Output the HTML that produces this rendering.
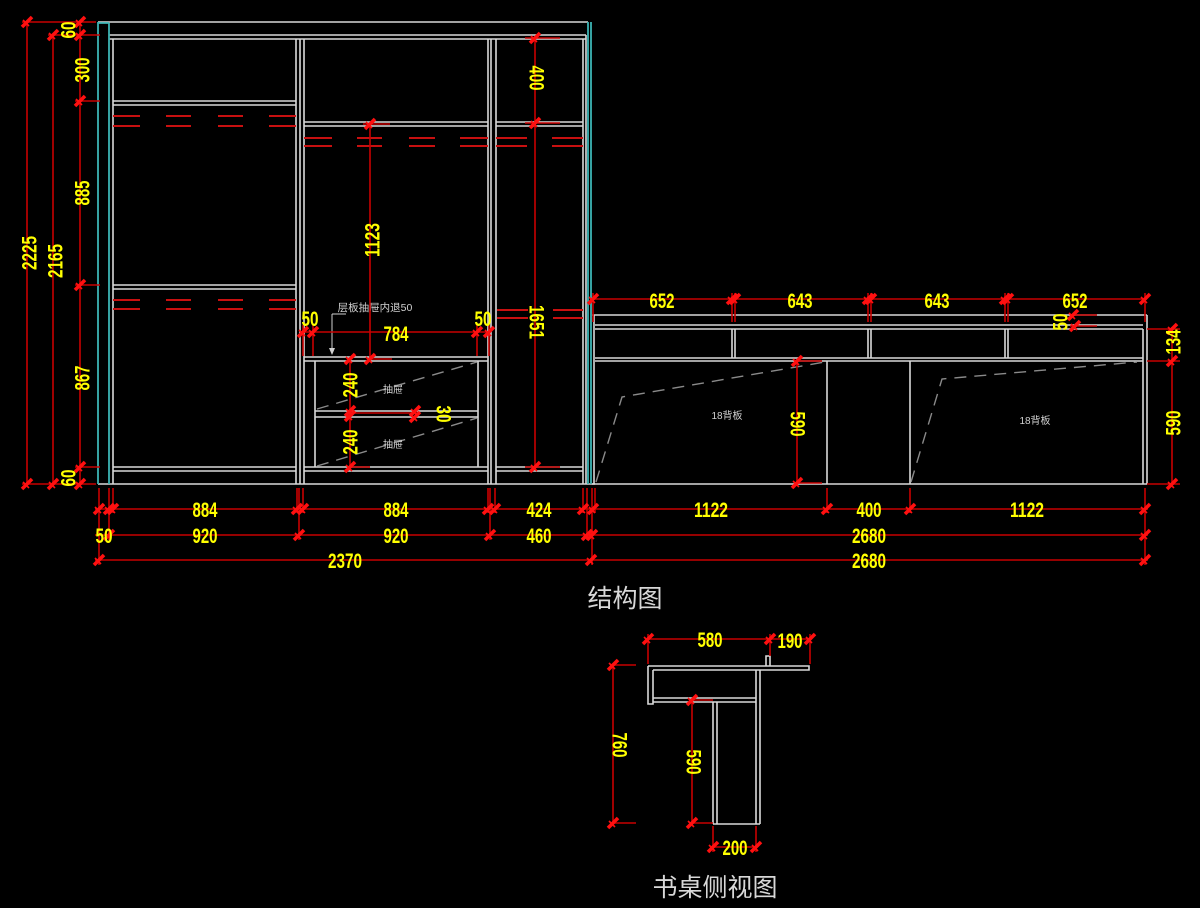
<!DOCTYPE html>
<html><head><meta charset="utf-8">
<style>
html,body{margin:0;padding:0;background:#000;}
svg{display:block;}
.w{stroke:#d9d9d9;stroke-width:1.6;fill:none;}
.c{stroke:#3cb4b4;stroke-width:1.8;fill:none;}
.r{stroke:#c80000;stroke-width:1.6;fill:none;}
.rd{stroke:#c81010;stroke-width:2;fill:none;}
.g{stroke:#8a8a8a;stroke-width:1.4;fill:none;stroke-dasharray:12 8;}
.y{font-family:"Liberation Sans",sans-serif;font-weight:bold;font-size:21px;fill:#ffff00;text-anchor:middle;}
.s{font-family:"Liberation Sans","Noto Sans CJK SC",sans-serif;font-size:10px;fill:#d0d0d0;text-anchor:middle;}
.t{font-family:"Liberation Sans","Noto Sans CJK SC",sans-serif;font-size:25px;fill:#d8d8d8;text-anchor:middle;}
</style></head>
<body>
<svg width="1200" height="908" viewBox="0 0 1200 908" xmlns="http://www.w3.org/2000/svg">
<defs>
<g id="k"><path d="M-5 5 L5 -5" stroke="#ff1010" stroke-width="3.6"/><path d="M-4 -2 L2 4" stroke="#ff1010" stroke-width="1.6"/></g>
</defs>
<rect width="1200" height="908" fill="#000"/>

<!-- ================= WARDROBE ================= -->
<g class="w">
<path d="M98 22 H588"/>
<path d="M109 35 H586 M109 39 H586"/>
<path d="M113 39 V484"/>
<path d="M98 484 H595"/>
<path d="M296 39 V484 M300 39 V484 M304 39 V484"/>
<path d="M488 39 V484 M491 39 V484 M496 39 V484"/>
<path d="M583 39 V484 M586 35 V484"/>
<path d="M113 101 H296 M113 105 H296"/>
<path d="M113 285 H296 M113 289 H296"/>
<path d="M113 467 H296 M113 471 H296"/>
<path d="M304 122 H488 M304 126 H488"/>
<path d="M304 357 H488 M304 361 H488"/>
<path d="M315 361 V467 M478 361 V467"/>
<path d="M315 411 H478 M315 417 H478"/>
<path d="M304 467 H488 M304 471 H488"/>
<path d="M496 122 H583 M496 126 H583"/>
<path d="M496 467 H583 M496 471 H583"/>
</g>
<g class="c">
<path d="M98 22 V484 M109 23 V484 M98 23 H109"/>
<path d="M588 22 V484 M591 22 V484"/>
</g>
<g class="rd">
<path d="M113 116 H140 M166 116 H191 M218 116 H243 M269 116 H296"/>
<path d="M113 126 H140 M166 126 H191 M218 126 H243 M269 126 H296"/>
<path d="M113 300 H140 M166 300 H191 M218 300 H243 M269 300 H296"/>
<path d="M113 309 H140 M166 309 H191 M218 309 H243 M269 309 H296"/>
<path d="M304 138 H332 M357 138 H382 M409 138 H435 M460 138 H488"/>
<path d="M304 146 H332 M357 146 H382 M409 146 H435 M460 146 H488"/>
<path d="M496 138 H527 M552 138 H583 M496 146 H527 M552 146 H583"/>
<path d="M497 310 H528 M553 310 H583 M497 318 H528 M553 318 H583"/>
</g>
<path class="g" d="M317 409 L477 362"/>
<path class="g" d="M317 466 L477 418"/>
<text class="s" x="393" y="393">抽屉</text>
<text class="s" x="393" y="448">抽屉</text>
<text class="s" x="375" y="311" style="font-size:10.5px">层板抽屉内退50</text>
<path d="M332 314 H346 M332 314 V350" style="stroke:#d0d0d0;stroke-width:1;fill:none"/>
<path d="M329 348 L332 355 L335 348 Z" fill="#d0d0d0"/>

<!-- ================= DESK ================= -->
<g class="w">
<path d="M592 315 H1147"/>
<path d="M595 325 H1143 M595 329 H1143"/>
<path d="M594 315 V484"/>
<path d="M1143 329 V484 M1147 315 V484"/>
<path d="M732 329 V358 M735 329 V358 M868 329 V358 M871 329 V358 M1005 329 V358 M1008 329 V358"/>
<path d="M595 358 H1143 M595 361 H1143"/>
<path d="M827 361 V484 M910 361 V484"/>
<path d="M592 484 H1147"/>
</g>
<path class="g" d="M596 482 L622 397 L825 362"/>
<path class="g" d="M911 482 L942 379 L1137 362"/>
<text class="s" x="727" y="419">18背板</text>
<text class="s" x="1035" y="424">18背板</text>

<!-- ================= DIMENSIONS (wardrobe left) ================= -->
<g class="r">
<path d="M27 22 V484 M53 35 V484 M80 22 V484"/>
<path d="M22 22 H96 M48 35 H100 M75 101 H100 M75 285 H100 M75 467 H100 M22 484 H96"/>
</g>
<use href="#k" x="27" y="22"/><use href="#k" x="27" y="484"/>
<use href="#k" x="53" y="35"/><use href="#k" x="53" y="484"/>
<use href="#k" x="80" y="22"/><use href="#k" x="80" y="35"/><use href="#k" x="80" y="101"/>
<use href="#k" x="80" y="285"/><use href="#k" x="80" y="467"/><use href="#k" x="80" y="484"/>
<text class="y" transform="translate(29 253) rotate(-90)" y="7.5" textLength="34" lengthAdjust="spacingAndGlyphs">2225</text>
<text class="y" transform="translate(55 261) rotate(-90)" y="7.5" textLength="34" lengthAdjust="spacingAndGlyphs">2165</text>
<text class="y" transform="translate(68 30) rotate(-90)" y="7.5" textLength="17" lengthAdjust="spacingAndGlyphs">60</text>
<text class="y" transform="translate(82 70) rotate(-90)" y="7.5" textLength="25" lengthAdjust="spacingAndGlyphs">300</text>
<text class="y" transform="translate(82 193) rotate(-90)" y="7.5" textLength="25" lengthAdjust="spacingAndGlyphs">885</text>
<text class="y" transform="translate(82 378) rotate(-90)" y="7.5" textLength="25" lengthAdjust="spacingAndGlyphs">867</text>
<text class="y" transform="translate(68 478) rotate(-90)" y="7.5" textLength="17" lengthAdjust="spacingAndGlyphs">60</text>

<!-- middle dims -->
<g class="r">
<path d="M370 124 V359 M363 124 H390 M370 359 H392"/>
<path d="M535 38 V467 M525 38 H560 M525 123 H560 M525 467 H560"/>
<path d="M303 332 H489 M303 325 V356 M313 325 V356 M477 325 V356 M489 325 V356"/>
<path d="M350 359 V467 M350 413 H420 M350 467 H370"/>
</g>
<use href="#k" x="370" y="124"/><use href="#k" x="370" y="359"/>
<use href="#k" x="535" y="38"/><use href="#k" x="535" y="123"/><use href="#k" x="535" y="467"/>
<use href="#k" x="303" y="332"/><use href="#k" x="313" y="332"/><use href="#k" x="477" y="332"/><use href="#k" x="489" y="332"/>
<use href="#k" x="350" y="359"/><use href="#k" x="350" y="411"/><use href="#k" x="350" y="416"/><use href="#k" x="350" y="467"/>
<use href="#k" x="415" y="411"/><use href="#k" x="415" y="417"/>
<text class="y" transform="translate(372 240) rotate(-90)" y="7.5" textLength="34" lengthAdjust="spacingAndGlyphs">1123</text>
<text class="y" transform="translate(537 78) rotate(90)" y="7.5" textLength="25" lengthAdjust="spacingAndGlyphs">400</text>
<text class="y" transform="translate(537 322) rotate(90)" y="7.5" textLength="34" lengthAdjust="spacingAndGlyphs">1651</text>
<text class="y" transform="translate(350 385) rotate(-90)" y="7.5" textLength="25" lengthAdjust="spacingAndGlyphs">240</text>
<text class="y" transform="translate(350 442) rotate(-90)" y="7.5" textLength="25" lengthAdjust="spacingAndGlyphs">240</text>
<text class="y" transform="translate(444 414) rotate(90)" y="7.5" textLength="17" lengthAdjust="spacingAndGlyphs">30</text>
<text class="y" x="310" y="326" textLength="17" lengthAdjust="spacingAndGlyphs">50</text>
<text class="y" x="396" y="341" textLength="25" lengthAdjust="spacingAndGlyphs">784</text>
<text class="y" x="483" y="326" textLength="17" lengthAdjust="spacingAndGlyphs">50</text>

<!-- desk dims -->
<g class="r">
<path d="M590 299 H1147"/>
<path d="M593 293 V322 M732 293 V322 M735 293 V322 M868 293 V322 M871 293 V322 M1005 293 V322 M1008 293 V322 M1145 293 V322"/>
<path d="M1070 315 H1097 M1070 326 H1097"/>
<path d="M1172 327 V484 M1147 329 H1180 M1147 361 H1180 M1147 484 H1180"/>
<path d="M797 361 V483 M797 361 H822 M797 483 H822"/>
</g>
<use href="#k" x="593" y="299"/><use href="#k" x="732" y="299"/><use href="#k" x="735" y="299"/>
<use href="#k" x="868" y="299"/><use href="#k" x="871" y="299"/><use href="#k" x="1005" y="299"/>
<use href="#k" x="1008" y="299"/><use href="#k" x="1145" y="299"/>
<use href="#k" x="1073" y="315"/><use href="#k" x="1075" y="326"/>
<use href="#k" x="1172" y="329"/><use href="#k" x="1172" y="361"/><use href="#k" x="1172" y="484"/>
<use href="#k" x="797" y="361"/><use href="#k" x="797" y="483"/>
<text class="y" x="662" y="308" textLength="25" lengthAdjust="spacingAndGlyphs">652</text>
<text class="y" x="800" y="308" textLength="25" lengthAdjust="spacingAndGlyphs">643</text>
<text class="y" x="937" y="308" textLength="25" lengthAdjust="spacingAndGlyphs">643</text>
<text class="y" x="1075" y="308" textLength="25" lengthAdjust="spacingAndGlyphs">652</text>
<text class="y" transform="translate(1060 322) rotate(-90)" y="7.5" textLength="17" lengthAdjust="spacingAndGlyphs">50</text>
<text class="y" transform="translate(1173 342) rotate(-90)" y="7.5" textLength="25" lengthAdjust="spacingAndGlyphs">134</text>
<text class="y" transform="translate(1173 423) rotate(-90)" y="7.5" textLength="25" lengthAdjust="spacingAndGlyphs">590</text>
<text class="y" transform="translate(798 424) rotate(90)" y="7.5" textLength="25" lengthAdjust="spacingAndGlyphs">590</text>

<!-- bottom dims -->
<g class="r">
<path d="M95 509 H1148 M95 535 H1148 M95 560 H1148"/>
<path d="M99 488 V565 M109 488 V540 M113 488 V513 M297 488 V513 M299 488 V540 M303 488 V513"/>
<path d="M488 488 V513 M490 488 V540 M495 488 V513 M583 488 V513 M587 488 V540 M592 488 V565 M595 488 V513"/>
<path d="M827 488 V513 M910 488 V513 M1145 488 V565"/>
</g>
<use href="#k" x="99" y="509"/><use href="#k" x="109" y="509"/><use href="#k" x="113" y="509"/>
<use href="#k" x="297" y="509"/><use href="#k" x="303" y="509"/><use href="#k" x="488" y="509"/>
<use href="#k" x="495" y="509"/><use href="#k" x="583" y="509"/><use href="#k" x="593" y="509"/>
<use href="#k" x="827" y="509"/><use href="#k" x="910" y="509"/><use href="#k" x="1145" y="509"/>
<use href="#k" x="109" y="535"/><use href="#k" x="299" y="535"/><use href="#k" x="490" y="535"/>
<use href="#k" x="587" y="535"/><use href="#k" x="592" y="535"/><use href="#k" x="1145" y="535"/>
<use href="#k" x="99" y="560"/><use href="#k" x="591" y="560"/><use href="#k" x="1145" y="560"/>
<text class="y" x="205" y="517" textLength="25" lengthAdjust="spacingAndGlyphs">884</text>
<text class="y" x="396" y="517" textLength="25" lengthAdjust="spacingAndGlyphs">884</text>
<text class="y" x="539" y="517" textLength="25" lengthAdjust="spacingAndGlyphs">424</text>
<text class="y" x="711" y="517" textLength="34" lengthAdjust="spacingAndGlyphs">1122</text>
<text class="y" x="869" y="517" textLength="25" lengthAdjust="spacingAndGlyphs">400</text>
<text class="y" x="1027" y="517" textLength="34" lengthAdjust="spacingAndGlyphs">1122</text>
<text class="y" x="104" y="543" textLength="17" lengthAdjust="spacingAndGlyphs">50</text>
<text class="y" x="205" y="543" textLength="25" lengthAdjust="spacingAndGlyphs">920</text>
<text class="y" x="396" y="543" textLength="25" lengthAdjust="spacingAndGlyphs">920</text>
<text class="y" x="539" y="543" textLength="25" lengthAdjust="spacingAndGlyphs">460</text>
<text class="y" x="869" y="543" textLength="34" lengthAdjust="spacingAndGlyphs">2680</text>
<text class="y" x="345" y="568" textLength="34" lengthAdjust="spacingAndGlyphs">2370</text>
<text class="y" x="869" y="568" textLength="34" lengthAdjust="spacingAndGlyphs">2680</text>

<text class="t" x="625" y="607">结构图</text>

<!-- ================= DESK SIDE VIEW ================= -->
<g class="w">
<path d="M648 666 H809 V670 H653 M648 666 V704 H653 V670"/>
<path d="M766 666 V656 H770 V666"/>
<path d="M653 698 H756 M653 702 H756"/>
<path d="M756 670 V824 M760 670 V824"/>
<path d="M713 702 V824 M717 702 V824"/>
<path d="M713 824 H760"/>
</g>
<g class="r">
<path d="M648 639 H812 M648 634 V664 M770 634 V656 M810 634 V664"/>
<path d="M613 665 V823 M613 665 H636 M613 823 H636"/>
<path d="M692 700 V823 M692 700 H713 M692 823 H713"/>
<path d="M713 847 H756 M713 826 V852 M756 826 V852"/>
</g>
<use href="#k" x="648" y="639"/><use href="#k" x="770" y="639"/><use href="#k" x="810" y="639"/>
<use href="#k" x="613" y="665"/><use href="#k" x="613" y="823"/>
<use href="#k" x="692" y="700"/><use href="#k" x="692" y="823"/>
<use href="#k" x="713" y="847"/><use href="#k" x="756" y="847"/>
<text class="y" x="710" y="647" textLength="25" lengthAdjust="spacingAndGlyphs">580</text>
<text class="y" x="790" y="648" textLength="25" lengthAdjust="spacingAndGlyphs">190</text>
<text class="y" transform="translate(620 745) rotate(90)" y="7.5" textLength="25" lengthAdjust="spacingAndGlyphs">760</text>
<text class="y" transform="translate(694 762) rotate(90)" y="7.5" textLength="25" lengthAdjust="spacingAndGlyphs">590</text>
<text class="y" x="735" y="855" textLength="25" lengthAdjust="spacingAndGlyphs">200</text>

<text class="t" x="715" y="896">书桌侧视图</text>
</svg>
</body></html>
